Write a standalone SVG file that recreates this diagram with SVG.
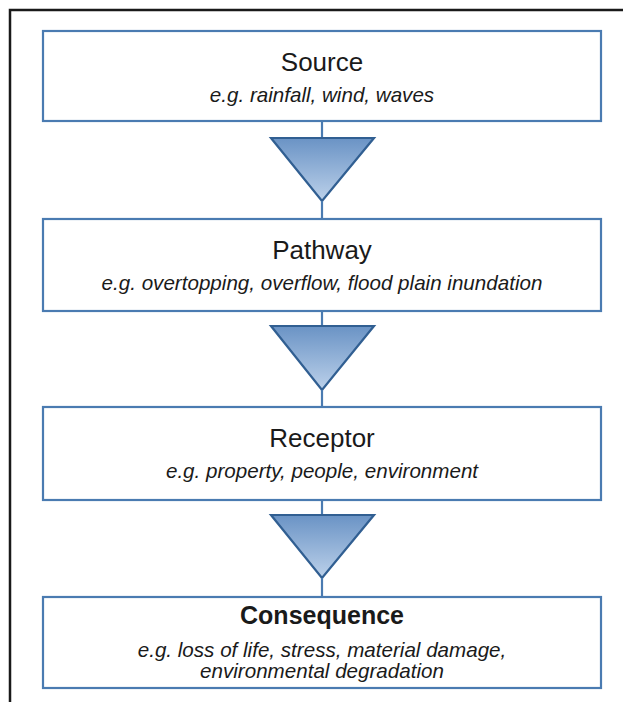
<svg xmlns="http://www.w3.org/2000/svg" width="623" height="702" viewBox="0 0 623 702">
  <defs>
    <linearGradient id="triFill" x1="0" y1="0" x2="0" y2="1">
      <stop offset="0" stop-color="#6a93c5"/>
      <stop offset="1" stop-color="#bcd1ea"/>
    </linearGradient>
    <style>
      .box { fill: #ffffff; stroke: #4a7bb1; stroke-width: 2.2; }
      .title { font-family: "Liberation Sans", Arial, sans-serif; font-size: 26px; fill: #1a1a1a; text-anchor: middle; }
      .bold { font-weight: bold; font-size: 25px; }
      .sub { font-family: "Liberation Sans", Arial, sans-serif; font-size: 20.6px; font-style: italic; fill: #1a1a1a; text-anchor: middle; }
      .conn { stroke: #4a7bb1; stroke-width: 2.2; fill: none; }
      .tri { fill: url(#triFill); stroke: #315f92; stroke-width: 2.2; stroke-linejoin: miter; }
      .frame { stroke: #1a1a1a; stroke-width: 2.5; fill: none; }
    </style>
  </defs>
  <rect x="0" y="0" width="623" height="702" fill="#ffffff"/>
  <path class="frame" d="M10,702 L10,10 L623,10"/>

  <g id="connectors">
    <line class="conn" x1="322" y1="121" x2="322" y2="138"/>
    <polygon class="tri" points="271,138 374,138 322,201"/>
    <line class="conn" x1="322" y1="201" x2="322" y2="219"/>

    <line class="conn" x1="322" y1="311" x2="322" y2="326"/>
    <polygon class="tri" points="271,326 374,326 322,390"/>
    <line class="conn" x1="322" y1="390" x2="322" y2="407"/>

    <line class="conn" x1="322" y1="500" x2="322" y2="515"/>
    <polygon class="tri" points="271,515 374,515 322,578"/>
    <line class="conn" x1="322" y1="578" x2="322" y2="597"/>
  </g>

  <g id="source">
    <rect class="box" x="43" y="31" width="558" height="90"/>
    <text class="title" x="322" y="71">Source</text>
    <text class="sub" x="322" y="102">e.g. rainfall, wind, waves</text>
  </g>

  <g id="pathway">
    <rect class="box" x="43" y="219" width="558" height="92"/>
    <text class="title" x="322" y="259">Pathway</text>
    <text class="sub" x="322" y="290">e.g. overtopping, overflow, flood plain inundation</text>
  </g>

  <g id="receptor">
    <rect class="box" x="43" y="407" width="558" height="93"/>
    <text class="title" x="322" y="447">Receptor</text>
    <text class="sub" x="322" y="478">e.g. property, people, environment</text>
  </g>

  <g id="consequence">
    <rect class="box" x="43" y="597" width="558" height="91"/>
    <text class="title bold" x="322" y="624">Consequence</text>
    <text class="sub" x="322" y="657">e.g. loss of life, stress, material damage,</text>
    <text class="sub" x="322" y="678">environmental degradation</text>
  </g>
</svg>
